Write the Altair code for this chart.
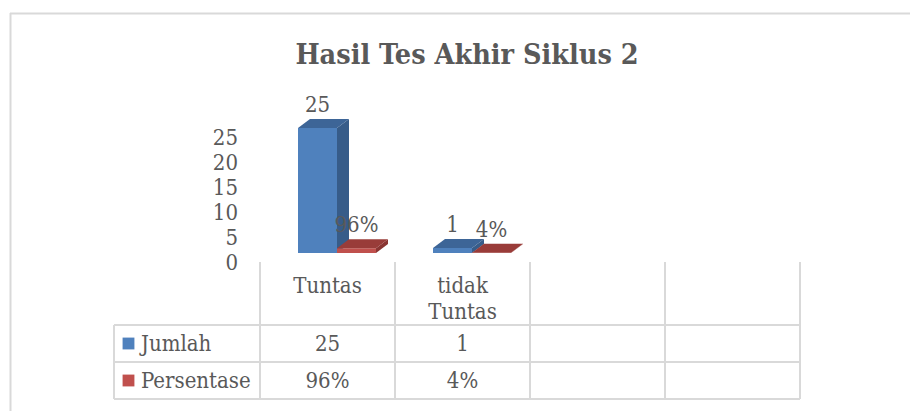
import altair as alt
import pandas as pd

# ---------------- data ----------------
title_text = "Hasil Tes Akhir Siklus 2"
categories = ["Tuntas", "tidak Tuntas"]
table_slots = 4                      # the data table has 4 column slots, 2 used
series_names = ["Jumlah", "Persentase"]
jumlah = [25, 1]
persentase = [0.96, 0.04]
jumlah_labels = ["25", "1"]
persentase_labels = ["96%", "4%"]
y_ticks = [0, 5, 10, 15, 20, 25]

series_values = [jumlah, persentase]
series_labels = [jumlah_labels, persentase_labels]

# ---------------- style / layout ----------------
W, H = 910, 411
FONT = "DejaVu Serif Condensed, Liberation Serif, serif"
FS = 22
TXT = "#595959"
GRID = "#D9D9D9"
face_colors = [
    ("#4F81BD", "#375C89", "#3D6597"),   # front, side, top  (Jumlah)
    ("#C0504D", "#8A3532", "#993C39"),   # front, side, top  (Persentase)
]
col_center_px = 327.5
col_w_px = 135
base_px = 253
px_per_unit = 5
group_shift = 9.5 / col_w_px
bar_w = 39 / col_w_px
depth_dx = 12 / col_w_px
depth_dy = 9 / px_per_unit

xscale = alt.Scale(domain=[(0 - col_center_px) / col_w_px, (W - col_center_px) / col_w_px],
                   range=[0, W], nice=False, zero=False)
yscale = alt.Scale(domain=[(base_px - H) / px_per_unit, base_px / px_per_unit],
                   range=[H, 0], nice=False, zero=False)


def X(f):
    return alt.X(f, type="quantitative", scale=xscale, axis=None)


def Y(f):
    return alt.Y(f, type="quantitative", scale=yscale, axis=None, stack=False)


layers = []

# ---------------- 3D columns ----------------
for k, (vals, labs) in enumerate(zip(series_values, series_labels)):
    front_c, side_c, top_c = face_colors[k]
    front, side, top, lab = [], [], [], []
    for i, v in enumerate(vals):
        x0 = i + group_shift - bar_w + k * bar_w
        x1 = x0 + bar_w
        bid = f"{k}-{i}"
        front.append({"x0": x0, "x1": x1, "y0": 0, "y1": v})
        side.append({"bid": bid, "x": x1, "y0": 0, "y1": v})
        side.append({"bid": bid, "x": x1 + depth_dx, "y0": depth_dy, "y1": v + depth_dy})
        top.append({"bid": bid, "y": v, "x0": x0, "x1": x1})
        top.append({"bid": bid, "y": v + depth_dy, "x0": x0 + depth_dx, "x1": x1 + depth_dx})
        lab.append({"x": (x0 + x1) / 2, "y": v, "t": labs[i]})

    layers.append(alt.Chart(pd.DataFrame(front)).mark_rect(color=front_c).encode(
        x=X("x0"), x2=alt.X2("x1"), y=Y("y0"), y2=alt.Y2("y1")))
    layers.append(alt.Chart(pd.DataFrame(side)).mark_area(color=side_c, orient="vertical", opacity=1).encode(
        x=X("x"), y=Y("y0"), y2=alt.Y2("y1"), detail="bid:N"))
    layers.append(alt.Chart(pd.DataFrame(top)).mark_area(color=top_c, orient="horizontal", opacity=1).encode(
        y=Y("y"), x=X("x0"), x2=alt.X2("x1"), detail="bid:N"))
    layers.append(alt.Chart(pd.DataFrame(lab)).mark_text(
        font=FONT, fontSize=FS, color=TXT, baseline="middle", align="center", dy=-23).encode(
        x=X("x"), y=Y("y"), text="t:N"))

# ---------------- value axis labels ----------------
layers.append(alt.Chart(pd.DataFrame({"v": y_ticks})).mark_text(
    font=FONT, fontSize=FS, color=TXT, align="right", baseline="middle", dy=10).encode(
    x=alt.value(238), y=Y("v"), text="v:Q"))

# ---------------- title ----------------
layers.append(alt.Chart(pd.DataFrame({"t": [title_text]})).mark_text(
    font=FONT, fontSize=28.5, fontWeight="bold", color=TXT, align="center", baseline="alphabetic").encode(
    x=alt.value(467), y=alt.value(64), text="t:N"))

# ---------------- chart frame ----------------
layers.append(alt.Chart(pd.DataFrame({"a": [0]})).mark_rule(color=GRID, strokeWidth=2).encode(
    x=alt.value(10), x2=alt.value(W), y=alt.value(13.5)))
layers.append(alt.Chart(pd.DataFrame({"a": [0]})).mark_rule(color=GRID, strokeWidth=2).encode(
    x=alt.value(10.5), y=alt.value(13), y2=alt.value(H)))

# ---------------- data table ----------------
tbl_top, row1_top, row2_top, tbl_bottom = 262, 325, 362, 399
legend_left = 114
tbl_right_px = col_center_px + col_w_px * (table_slots - 0.5)

bounds = pd.DataFrame({"b": [j - 0.5 for j in range(table_slots + 1)]})
layers.append(alt.Chart(bounds).mark_rule(color=GRID, strokeWidth=2).encode(
    x=X("b"), y=alt.value(tbl_top), y2=alt.value(tbl_bottom)))
layers.append(alt.Chart(pd.DataFrame({"a": [0]})).mark_rule(color=GRID, strokeWidth=2).encode(
    x=alt.value(legend_left), y=alt.value(row1_top), y2=alt.value(tbl_bottom)))
for yy in (row1_top, row2_top, tbl_bottom):
    layers.append(alt.Chart(pd.DataFrame({"a": [0]})).mark_rule(color=GRID, strokeWidth=2).encode(
        x=alt.value(legend_left), x2=alt.value(tbl_right_px), y=alt.value(yy)))

# category labels
cat_df = pd.DataFrame({"i": list(range(len(categories))), "c": categories})
layers.append(alt.Chart(cat_df).mark_text(
    font=FONT, fontSize=FS, color=TXT, align="center", baseline="top", lineBreak=" ", lineHeight=26).encode(
    x=X("i"), y=alt.value(276), text="c:N"))

# series rows
row_centers = [(row1_top + row2_top) / 2, (row2_top + tbl_bottom) / 2]
for k, name in enumerate(series_names):
    rc = row_centers[k]
    layers.append(alt.Chart(pd.DataFrame({"s": [name]})).mark_square(
        color=face_colors[k][0], size=140, opacity=1).encode(
        x=alt.value(128.5), y=alt.value(rc)))
    layers.append(alt.Chart(pd.DataFrame({"s": [name]})).mark_text(
        font=FONT, fontSize=FS, color=TXT, align="left", baseline="middle").encode(
        x=alt.value(141), y=alt.value(rc), text="s:N"))
    vdf = pd.DataFrame({"i": list(range(len(categories))), "t": series_labels[k]})
    layers.append(alt.Chart(vdf).mark_text(
        font=FONT, fontSize=FS, color=TXT, align="center", baseline="middle").encode(
        x=X("i"), y=alt.value(rc), text="t:N"))

chart = alt.layer(*layers).properties(
    width=W, height=H, padding=0,
    autosize=alt.AutoSizeParams(type="none"),
    background="white",
).configure_view(strokeWidth=0)

chart.save("out.html", embed_options={"renderer": "svg", "actions": False})
